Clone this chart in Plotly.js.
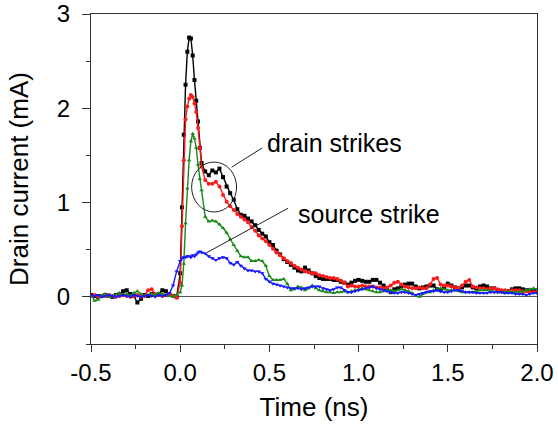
<!DOCTYPE html>
<html>
<head>
<meta charset="utf-8">
<script src="https://cdn.plot.ly/plotly-3.0.1.min.js"></script>
<style>html,body{margin:0;padding:0;background:#fff;}#chart{width:558px;height:425px;}</style>
</head>
<body>
<div id="chart"></div>
<script>
// time axis (ns)
const timeNs = [
-0.50,-0.48,-0.46,-0.44,-0.42,-0.40,-0.38,-0.36,-0.34,-0.32,
-0.30,-0.28,-0.26,-0.24,-0.22,-0.20,-0.18,-0.16,-0.14,-0.12,
-0.10,-0.08,-0.06,-0.04,-0.02,
0.00,0.01,0.02,0.03,0.04,0.05,0.06,0.07,0.08,0.09,0.10,0.11,0.12,
0.14,0.16,0.18,0.20,0.22,0.24,0.26,0.28,0.30,0.32,
0.34,0.36,0.38,0.40,0.42,0.44,0.46,0.48,0.50,0.52,
0.54,0.56,0.58,0.60,0.62,0.64,0.66,0.68,0.70,0.72,
0.74,0.76,0.78,0.80,0.82,0.84,0.86,0.88,0.90,0.92,
0.94,0.96,0.98,1.00,1.02,1.04,1.06,1.08,1.10,1.12,
1.14,1.16,1.18,1.20,1.22,1.24,1.26,1.28,1.30,1.32,
1.34,1.36,1.38,1.40,1.42,1.44,1.46,1.48,1.50,1.52,
1.54,1.56,1.58,1.60,1.62,1.64,1.66,1.68,1.70,1.72,
1.74,1.76,1.78,1.80,1.82,1.84,1.86,1.88,1.90,1.92,
1.94,1.96,1.98,2.00];

// drain current (mA)
const blackDrain = [
0.02,0.01,0.00,0.01,0.02,0.01,0.00,0.02,0.03,0.06,
0.07,0.03,0.01,-0.06,-0.02,0.02,0.01,0.03,0.02,0.03,
0.07,0.06,0.02,0.01,0.00,
0.25,0.95,1.72,2.25,2.60,2.75,2.74,2.56,2.30,2.08,1.86,1.58,1.42,
1.33,1.29,1.34,1.32,1.36,1.27,1.17,1.10,1.03,0.93,
0.87,0.86,0.83,0.80,0.76,0.71,0.67,0.64,0.58,0.55,
0.49,0.45,0.40,0.37,0.34,0.31,0.28,0.27,0.31,0.28,
0.25,0.22,0.20,0.19,0.19,0.19,0.18,0.18,0.16,0.15,
0.13,0.15,0.17,0.18,0.17,0.16,0.16,0.18,0.18,0.15,
0.12,0.08,0.05,0.08,0.09,0.11,0.13,0.14,0.14,0.11,
0.09,0.10,0.11,0.12,0.12,0.08,0.07,0.10,0.14,0.12,
0.10,0.09,0.10,0.12,0.12,0.10,0.09,0.11,0.12,0.11,
0.09,0.09,0.07,0.06,0.05,0.06,0.08,0.09,0.09,0.08,
0.07,0.07,0.06,0.07];

const redDrain = [
0.01,0.02,0.00,0.01,0.01,0.02,0.01,0.00,0.01,0.02,
0.01,0.00,0.01,0.02,0.00,0.01,0.07,0.08,0.03,0.02,
0.01,0.02,0.03,0.01,-0.01,
0.15,0.75,1.45,1.88,2.02,2.10,2.14,2.12,2.05,1.96,1.79,1.58,1.38,
1.24,1.20,1.20,1.22,1.17,1.08,1.01,0.96,0.92,0.88,
0.85,0.82,0.79,0.74,0.70,0.65,0.62,0.59,0.55,0.51,
0.47,0.44,0.41,0.38,0.36,0.33,0.31,0.29,0.27,0.26,
0.25,0.25,0.23,0.22,0.21,0.20,0.20,0.19,0.17,0.15,
0.11,0.12,0.11,0.11,0.12,0.11,0.11,0.11,0.10,0.10,
0.09,0.10,0.12,0.15,0.16,0.13,0.11,0.10,0.09,0.09,
0.10,0.09,0.09,0.13,0.19,0.20,0.13,0.12,0.12,0.11,
0.10,0.09,0.12,0.16,0.18,0.11,0.10,0.09,0.09,0.08,
0.09,0.09,0.08,0.07,0.07,0.06,0.07,0.07,0.07,0.06,
0.06,0.05,0.05,0.05];

const greenDrain = [
0.02,-0.04,-0.03,0.01,0.03,0.00,0.01,0.02,0.04,0.02,
0.03,0.01,0.04,0.06,0.03,0.01,0.02,0.03,0.02,0.04,
0.03,0.02,0.01,0.00,0.02,
0.05,0.12,0.35,0.78,1.15,1.45,1.65,1.73,1.68,1.58,1.40,1.25,1.13,
0.85,0.80,0.81,0.80,0.77,0.73,0.68,0.61,0.55,0.49,
0.43,0.42,0.42,0.38,0.38,0.39,0.38,0.33,0.22,0.18,
0.18,0.18,0.19,0.14,0.07,0.08,0.11,0.10,0.07,0.09,
0.12,0.09,0.07,0.06,0.05,0.05,0.04,0.05,0.05,0.06,
0.05,0.06,0.07,0.08,0.09,0.08,0.07,0.06,0.05,0.05,
0.06,0.07,0.07,0.06,0.07,0.08,0.07,0.06,0.04,0.01,
0.00,0.03,0.05,0.05,0.07,0.08,0.09,0.08,0.07,0.07,
0.07,0.06,0.05,0.05,0.05,0.05,0.06,0.07,0.07,0.07,
0.06,0.05,0.05,0.05,0.05,0.06,0.05,0.05,0.05,0.06,
0.07,0.08,0.09,0.08];

const blueSource = [
0.02,0.01,0.02,0.00,0.01,0.02,0.01,0.00,0.01,0.02,
0.01,0.00,0.02,0.01,0.00,0.01,0.02,0.01,0.00,0.02,
0.01,0.02,0.04,0.12,0.27,
0.38,0.41,0.42,0.42,0.43,0.43,0.42,0.44,0.43,0.45,0.47,0.48,0.47,
0.46,0.43,0.41,0.39,0.41,0.42,0.41,0.36,0.34,0.37,
0.33,0.30,0.28,0.28,0.27,0.27,0.25,0.19,0.16,0.14,
0.13,0.12,0.11,0.10,0.09,0.09,0.09,0.08,0.09,0.10,
0.11,0.11,0.11,0.09,0.08,0.07,0.08,0.10,0.10,0.07,
0.05,0.05,0.06,0.07,0.08,0.09,0.10,0.11,0.09,0.08,
0.07,0.06,0.05,0.04,0.04,0.05,0.05,0.04,0.03,0.02,
0.03,0.04,0.05,0.06,0.06,0.07,0.06,0.05,0.05,0.06,
0.07,0.07,0.06,0.05,0.05,0.05,0.04,0.04,0.04,0.04,
0.05,0.05,0.05,0.05,0.04,0.04,0.04,0.03,0.03,0.03,
0.02,0.03,0.04,0.04];

const xTickVals = [-0.5, 0.0, 0.5, 1.0, 1.5, 2.0];
const xTickText = ['-0.5', '0.0', '0.5', '1.0', '1.5', '2.0'];
const yTickVals = [0, 1, 2, 3];
const yTickText = ['0', '1', '2', '3'];

const FONT = '"Liberation Sans", Arial, Helvetica, sans-serif';

function series(y, color, symbol, name) {
  return {
    x: timeNs, y: y, name: name, type: 'scatter', mode: 'lines+markers',
    line: {color: color, width: 1.4},
    marker: {color: color, symbol: symbol, size: 4},
    showlegend: false, hoverinfo: 'x+y'
  };
}

const data = [
  series(blackDrain, '#000000', 'square', 'drain strike 1'),
  series(redDrain, '#ff1a1a', 'circle', 'drain strike 2'),
  series(greenDrain, '#1a8a1a', 'triangle-up', 'drain strike 3'),
  series(blueSource, '#1a1aff', 'triangle-down', 'source strike')
];

const layout = {
  width: 558, height: 425,
  margin: {l: 91, r: 21, t: 14, b: 81},
  paper_bgcolor: '#ffffff', plot_bgcolor: '#ffffff',
  font: {family: FONT, color: '#000', size: 22},
  xaxis: {
    range: [-0.5, 2.0],
    tickmode: 'array', tickvals: xTickVals, ticktext: xTickText,
    ticks: 'outside', ticklen: 7, tickwidth: 1, tickcolor: '#333',
    minor: {ticks: 'outside', ticklen: 4, dtick: 0.25, tick0: 0, tickcolor: '#333'},
    showline: true, linecolor: '#333', linewidth: 1.2, mirror: true,
    showgrid: false, zeroline: false,
    tickfont: {family: FONT, size: 24, color: '#000'},
    title: {text: 'Time (ns)', font: {family: FONT, size: 26, color: '#000'}, standoff: 12}
  },
  yaxis: {
    range: [-0.5, 3],
    tickmode: 'array', tickvals: yTickVals, ticktext: yTickText,
    ticks: 'outside', ticklen: 8, tickwidth: 1, tickcolor: '#333',
    ticklabelstandoff: 7,
    minor: {ticks: 'outside', ticklen: 4, dtick: 0.5, tick0: 0, tickcolor: '#333'},
    showline: true, linecolor: '#333', linewidth: 1.2, mirror: true,
    showgrid: false, zeroline: true, zerolinecolor: '#555', zerolinewidth: 1,
    tickfont: {family: FONT, size: 24, color: '#000'},
    title: {text: 'Drain current (mA)', font: {family: FONT, size: 26, color: '#000'}, standoff: 20}
  },
  shapes: [
    {type: 'circle', xref: 'x', yref: 'y', x0: 0.064, x1: 0.316, y0: 0.90, y1: 1.43,
     line: {color: '#222', width: 1}},
    {type: 'line', xref: 'x', yref: 'y', x0: 0.288, y0: 1.375, x1: 0.46, y1: 1.58,
     line: {color: '#222', width: 1}},
    {type: 'line', xref: 'x', yref: 'y', x0: 0.15, y0: 0.47, x1: 0.605, y1: 0.94,
     line: {color: '#222', width: 1}}
  ],
  annotations: [
    {text: 'drain strikes', xref: 'x', yref: 'y', x: 0.476, y: 1.63, xanchor: 'left', yanchor: 'middle',
     showarrow: false, font: {family: FONT, size: 25, color: '#000'}},
    {text: 'source strike', xref: 'x', yref: 'y', x: 0.65, y: 0.88, xanchor: 'left', yanchor: 'middle',
     showarrow: false, font: {family: FONT, size: 25, color: '#000'}}
  ]
};

Plotly.newPlot('chart', data, layout, {displayModeBar: false, staticPlot: true});
</script>
</body>
</html>
